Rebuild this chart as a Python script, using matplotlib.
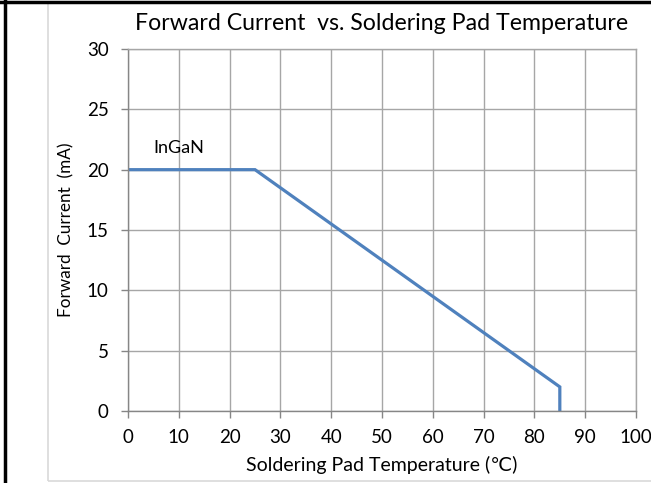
import matplotlib
matplotlib.use("Agg")
from matplotlib import pyplot as plt
from matplotlib.patches import Rectangle
from matplotlib.lines import Line2D

# derating curve
temp = [0, 25, 85, 85]
current = [20, 20, 2, 0]
x_ticks = [0, 10, 20, 30, 40, 50, 60, 70, 80, 90, 100]
y_ticks = [0, 5, 10, 15, 20, 25, 30]
series_label = "InGaN"

plt.rcParams['font.family'] = ['Lato', 'DejaVu Sans']

fig = plt.figure(figsize=(6.51, 4.83), dpi=100)
ax = fig.add_axes([0.1966, 0.149, 0.7804, 0.7496])

# outer frames
fig.patches.append(Rectangle((48 / 651, 2 / 483), 1.0, 478 / 483, transform=fig.transFigure,
                             fill=False, edgecolor='#d9d9d9', linewidth=1.2))
fig.lines.append(Line2D([5 / 651, 5 / 651], [0, 1], transform=fig.transFigure,
                        color='black', linewidth=2.5))
fig.lines.append(Line2D([0, 1], [1 - 1.5 / 483, 1 - 1.5 / 483], transform=fig.transFigure,
                        color='black', linewidth=2.5))

ax.plot(temp, current, color='#4f81bd', linewidth=2.3, solid_joinstyle='miter')
ax.text(10, 21.8, series_label, fontsize=13, ha='center', va='center', color='black')

ax.set_xlim(0, 100)
ax.set_ylim(0, 30)
ax.set_xticks(x_ticks)
ax.set_yticks(y_ticks)
ax.grid(True, color='#a6a6a6', linewidth=1.0)
ax.set_axisbelow(True)
for s in ax.spines.values():
    s.set_color('#a6a6a6')
    s.set_linewidth(1.0)
ax.spines['left'].set_color('#868686')
ax.spines['bottom'].set_color('#868686')
ax.tick_params(axis='both', direction='out', length=5, width=1.0, color='#868686',
               labelsize=13.5)
ax.tick_params(axis='x', pad=8)
ax.tick_params(axis='y', pad=9)

ax.set_title("Forward Current  vs. Soldering Pad Temperature", fontsize=16.7, pad=14)
ax.set_xlabel("Soldering Pad Temperature (℃)", fontsize=14, labelpad=7)
ax.set_ylabel("Forward  Current  (mA)", fontsize=12.3, labelpad=9)

fig.savefig("out.png", dpi=100)
